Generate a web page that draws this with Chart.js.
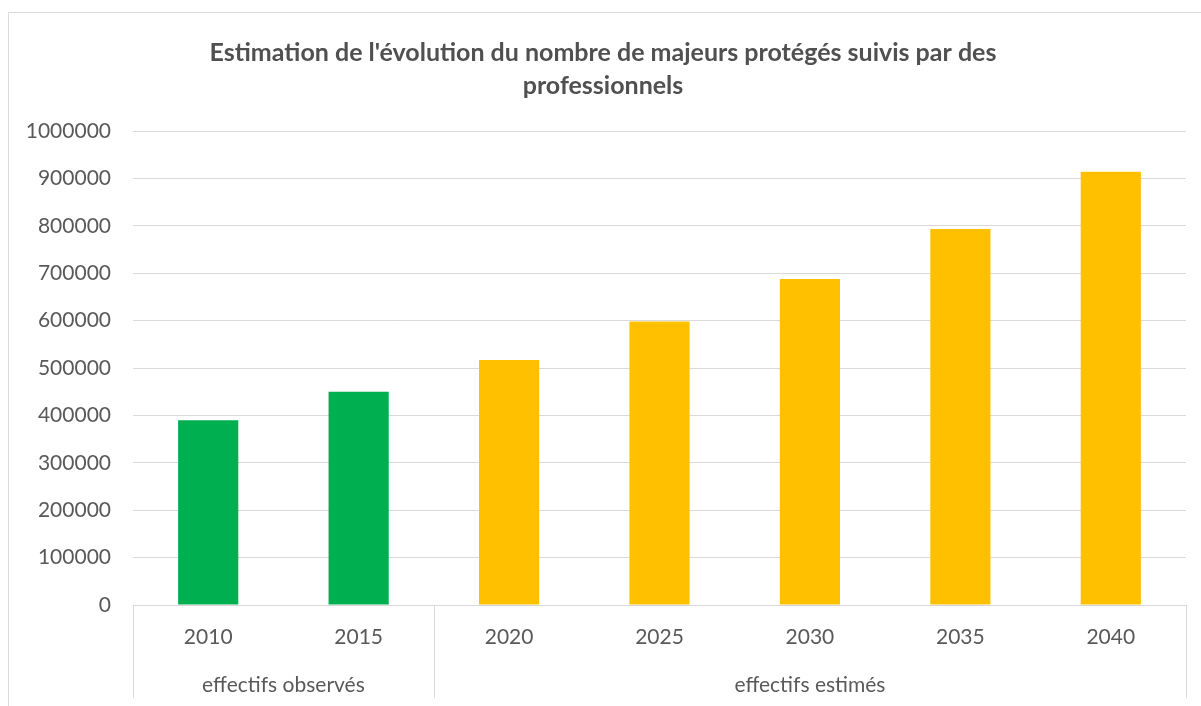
<!DOCTYPE html>
<html>
<head>
<meta charset="utf-8">
<script src="https://cdn.jsdelivr.net/npm/chart.js@4"></script>
<style>
  body { margin: 0; background: #fff; }
  #wrap { position: relative; width: 1201px; height: 706px; overflow: hidden; }
  #frame { position: absolute; left: 8px; top: 12px; width: 1220px; height: 720px; border: 1px solid #d9d9d9; }
  canvas { position: absolute; left: 0; top: 0; }
</style>
</head>
<body>
<div id="wrap">
  <div id="frame"></div>
  <canvas id="chart" width="1201" height="706"></canvas>
</div>
<script>
var years = ['2010', '2015', '2020', '2025', '2030', '2035', '2040']
var values = [390000, 450000, 517000, 598000, 688000, 793000, 914000]
var colors = ['#00B050', '#00B050', '#FFC000', '#FFC000', '#FFC000', '#FFC000', '#FFC000']
var groupNames = ['effectifs observés', 'effectifs estimés']
var groupSizes = [2, 5]
var titleLines = ["Estimation de l'évolution du nombre de majeurs protégés suivis par des", 'professionnels']

var textColor = '#595959'
var lineColor = '#d9d9d9'
var fontFamily = 'Lato, "Open Sans", sans-serif'

// draws the second level of the category axis (group names + separators)
var groupAxis = {
  id: 'groupAxis',
  afterDraw(chart) {
    let ctx = chart.ctx
    let x = chart.scales.x
    let area = chart.chartArea
    let half = (x.getPixelForValue(1) - x.getPixelForValue(0)) / 2
    ctx.save()
    ctx.strokeStyle = lineColor
    ctx.lineWidth = 1
    ctx.fillStyle = textColor
    ctx.font = '21px ' + fontFamily
    ctx.textAlign = 'center'
    ctx.textBaseline = 'middle'
    let start = 0
    groupSizes.forEach((size, i) => {
      let left = x.getPixelForValue(start) - half
      let right = x.getPixelForValue(start + size - 1) + half
      ctx.beginPath()
      ctx.moveTo(Math.round(left) + 0.5, area.bottom)
      ctx.lineTo(Math.round(left) + 0.5, 698)
      if (i == groupSizes.length - 1) {
        ctx.moveTo(Math.round(right) + 0.5, area.bottom)
        ctx.lineTo(Math.round(right) + 0.5, 698)
      }
      ctx.stroke()
      ctx.fillText(groupNames[i], (left + right) / 2, 685)
      start += size
    })
    ctx.restore()
  }
}

new Chart(document.getElementById('chart'), {
  type: 'bar',
  data: {
    labels: years,
    datasets: [{
      data: values,
      backgroundColor: colors,
      borderWidth: 0,
      categoryPercentage: 1,
      barPercentage: 0.4
    }]
  },
  options: {
    responsive: false,
    animation: false,
    devicePixelRatio: 1,
    layout: { padding: { left: 20, right: 15, top: 0, bottom: 0 } },
    plugins: {
      legend: { display: false },
      tooltip: { enabled: false },
      title: {
        display: true,
        text: titleLines,
        color: '#505050',
        font: { family: fontFamily, size: 25, weight: 'bold', lineHeight: 1.32 },
        padding: { top: 36, bottom: 29 }
      }
    },
    scales: {
      x: {
        grid: { display: false },
        border: { display: true, color: lineColor, width: 1 },
        ticks: { color: textColor, font: { family: fontFamily, size: 21 }, padding: 12 },
        afterFit(scale) { scale.height = 101 }
      },
      y: {
        min: 0,
        max: 1000000,
        ticks: {
          stepSize: 100000,
          color: textColor,
          font: { family: fontFamily, size: 21 },
          padding: 22,
          callback: v => String(v)
        },
        grid: { color: lineColor, drawTicks: false },
        border: { display: false },
        afterFit(scale) { scale.width = 113 }
      }
    }
  },
  plugins: [groupAxis]
})
</script>
</body>
</html>
